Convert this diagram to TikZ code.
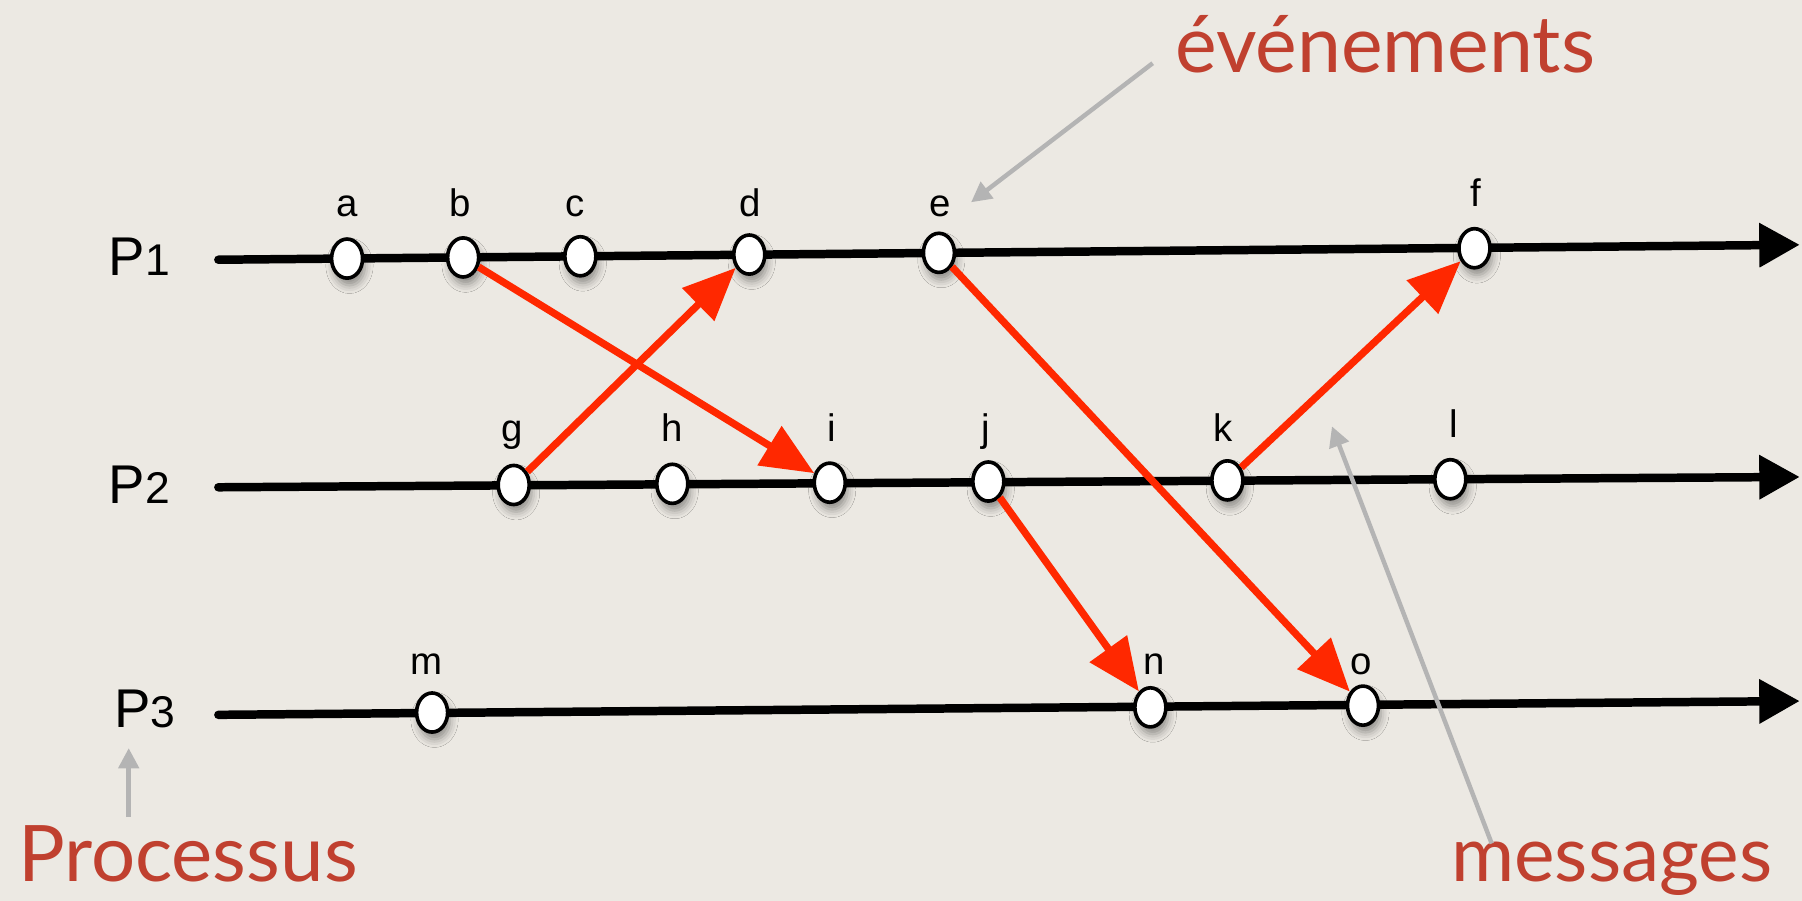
\documentclass[tikz,border=0pt]{standalone}
\usepackage{fontspec}
\setmainfont{Liberation Sans}
\newfontfamily\redfont{Lato}
\usetikzlibrary{arrows.meta,shapes.geometric,shadows.blur}
\definecolor{bgc}{RGB}{236,233,227}
\definecolor{redtxt}{RGB}{192,64,47}
\definecolor{msgred}{RGB}{255,40,0}
\definecolor{pointerc}{RGB}{180,180,180}
\begin{document}
\begin{tikzpicture}[x=0.01cm,y=-0.01cm,
 timeline/.style={line width=2.1pt, line cap=round, -{Triangle[length=10pt,width=10.5pt]}},
 event/.style={ellipse, draw=black, line width=0.9pt, fill=white, minimum width=0.27cm, minimum height=0.34cm, inner sep=0pt, blur shadow={shadow xshift=0.6pt, shadow yshift=-1.8pt, shadow blur radius=2pt, shadow opacity=40}},
 evlabel/.style={anchor=base, font=\fontsize{9.5}{11}\selectfont, inner sep=0pt},
 msg/.style={draw=msgred, line width=1.8pt, -{Triangle[length=13pt,width=11pt]}},
 pointer/.style={draw=pointerc, line width=1.1pt, -{Triangle[length=5pt,width=5pt]}},
 proc/.style={anchor=base west, font=\fontsize{13.5}{15}\selectfont, inner sep=0pt},
 title/.style={anchor=base west, text=redtxt, inner sep=0pt}
]
\fill[bgc] (0,0) rectangle (1568,784);
\useasboundingbox (0,0) rectangle (1568,784);

% timelines
\coordinate (s1) at (190,226); \coordinate (t1) at (1566,213);
\coordinate (s2) at (190,424); \coordinate (t2) at (1566,415);
\coordinate (s3) at (190,622); \coordinate (t3) at (1566,610);
\draw[timeline] (s1) -- (t1);
\draw[timeline] (s2) -- (t2);
\draw[timeline] (s3) -- (t3);

% process labels
\node[proc] (p1) at (94,240) {P\fontsize{11}{12}\selectfont 1};
\node[proc] (p2) at (94,438) {P\fontsize{11}{12}\selectfont 2};
\node[proc] (p3) at (99,633) {P\fontsize{11}{12}\selectfont 3};

% events
\node[event] (a) at (302,225) {};
\node[event] (b) at (403,224) {};
\node[event] (c) at (505,223) {};
\node[event] (d) at (652,221.5) {};
\node[event] (e) at (817,220) {};
\node[event] (f) at (1283,216) {};
\node[event] (g) at (447,422) {};
\node[event] (h) at (585,421) {};
\node[event] (i) at (722,420) {};
\node[event] (j) at (860,419) {};
\node[event] (k) at (1068,418) {};
\node[event] (l) at (1262,417) {};
\node[event] (m) at (376,620) {};
\node[event] (n) at (1001,615.5) {};
\node[event] (o) at (1186,614) {};

% event labels
\node[evlabel] (la) at (302,188) {a};
\node[evlabel] (lb) at (400,188) {b};
\node[evlabel] (lc) at (500,188) {c};
\node[evlabel] (ld) at (653,188) {d};
\node[evlabel] (le) at (818,188) {e};
\node[evlabel] (lf) at (1284,180) {f};
\node[evlabel] (lg) at (446,384) {g};
\node[evlabel] (lh) at (585,384) {h};
\node[evlabel] (li) at (724,384) {i};
\node[evlabel] (lj) at (858,384) {j};
\node[evlabel] (lk) at (1064,384) {k};
\node[evlabel] (ll) at (1265,381) {l};
\node[evlabel] (lm) at (371,587) {m};
\node[evlabel] (ln) at (1004,587) {n};
\node[evlabel] (lo) at (1184,587) {o};

% messages
\draw[msg] (b) -- (i);
\draw[msg] (g) -- (d);
\draw[msg] (e) -- (o);
\draw[msg] (j) -- (n);
\draw[msg] (k) -- (f);

% annotations
\node[title, font=\redfont\fontsize{19.5}{22}\selectfont] (ev) at (1022,63) {événements};
\node[title, font=\redfont\fontsize{19.3}{24}\selectfont] (pr) at (15,767) {Processus};
\node[title, font=\redfont\fontsize{19}{24}\selectfont] (ms) at (1262,767) {messages};

\coordinate (evs) at (1003,55); \coordinate (evt) at (845,176);
\coordinate (prs) at (112,711); \coordinate (prt) at (112,651);
\coordinate (mss) at (1298,734); \coordinate (mst) at (1159,371);
\draw[pointer] (evs) -- (evt);
\draw[pointer] (prs) -- (prt);
\draw[pointer] (mss) -- (mst);
\end{tikzpicture}
\end{document}
